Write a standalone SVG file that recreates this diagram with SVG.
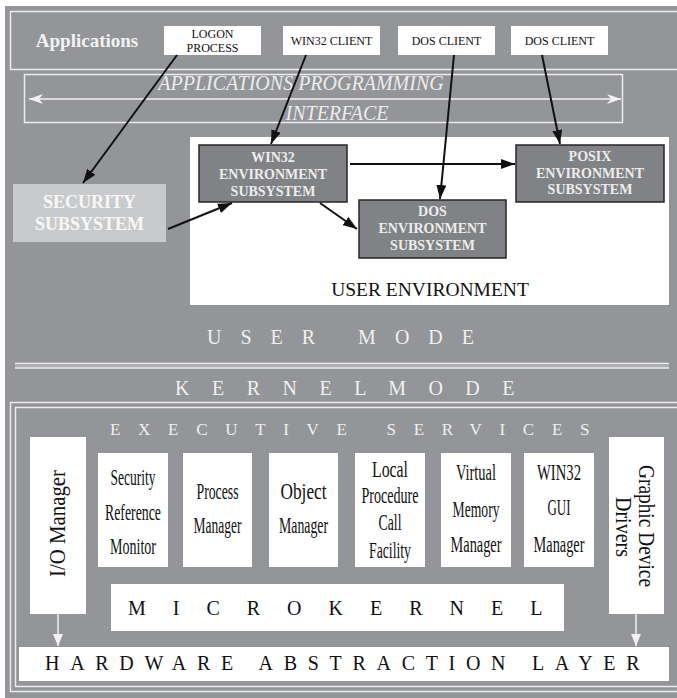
<svg xmlns="http://www.w3.org/2000/svg" width="677" height="698" viewBox="0 0 677 698">
<style>
.bg{fill:#939598}
.wline{fill:none;stroke:#ececec;stroke-width:1.5}
.client{fill:#ffffff}
.ctext{font-family:"Liberation Serif",serif;font-size:12px;fill:#111;text-anchor:middle}
.sub{fill:#808285;stroke:#262626;stroke-width:1.5}
.stext{font-family:"Liberation Serif",serif;font-size:14px;font-weight:bold;fill:#ededed;text-anchor:middle}
.sec{fill:#c9cacc}
.sectext{font-family:"Liberation Serif",serif;font-size:18px;font-weight:bold;fill:#f7f7f7;text-anchor:middle}
.api{font-family:"Liberation Serif",serif;font-size:20px;font-style:italic;fill:#ececec;text-anchor:middle}
.spaced{font-family:"Liberation Serif",serif;font-size:20px;fill:#f0f0f0}
.wbox{fill:#ffffff}
.etext{font-family:"Liberation Serif",serif;font-size:24px;fill:#111;text-anchor:middle}
.btext{font-family:"Liberation Serif",serif;font-size:20px;fill:#111}
.conn{fill:none;stroke:#111;stroke-width:2}
.wconn{fill:none;stroke:#f2f2f2;stroke-width:1.5}
</style>
<defs>
<marker id="ah" markerUnits="userSpaceOnUse" markerWidth="15" markerHeight="10" refX="14" refY="5" orient="auto">
<path d="M0,0 L14,5 L0,10 z" fill="#111"/>
</marker>
<marker id="wah" markerUnits="userSpaceOnUse" markerWidth="15" markerHeight="10" refX="14" refY="5" orient="auto">
<path d="M0,0 L14,5 L0,10 L4,5 z" fill="#f2f2f2"/>
</marker>
<marker id="wtri" markerUnits="userSpaceOnUse" markerWidth="13" markerHeight="10" refX="12" refY="5" orient="auto">
<path d="M0,0 L12,5 L0,10 z" fill="#f2f2f2"/>
</marker>
</defs>

<rect x="0" y="0" width="677" height="698" fill="#ffffff"/>
<rect class="bg" x="5" y="6" width="672" height="692"/>

<g id="applications">
<rect class="wline" x="10.5" y="11.5" width="680" height="58"/>
<text x="87" y="47" font-family="Liberation Serif,serif" font-size="19" font-weight="bold" fill="#f2f2f2" text-anchor="middle">Applications</text>
</g>

<g id="logon-process">
<rect class="client" x="164" y="26" width="97" height="29"/>
<text class="ctext" x="212.5" y="38">LOGON</text>
<text class="ctext" x="212.5" y="52">PROCESS</text>
</g>
<g id="win32-client">
<rect class="client" x="283" y="26" width="97" height="29"/>
<text class="ctext" x="331.5" y="45">WIN32 CLIENT</text>
</g>
<g id="dos-client-1">
<rect class="client" x="398" y="26" width="97" height="29"/>
<text class="ctext" x="446.5" y="45">DOS CLIENT</text>
</g>
<g id="dos-client-2">
<rect class="client" x="511" y="26" width="97" height="29"/>
<text class="ctext" x="559.5" y="45">DOS CLIENT</text>
</g>

<g id="api">
<rect class="wline" x="24.5" y="74.5" width="598" height="48"/>
<line class="wconn" x1="325" y1="99" x2="29" y2="99" marker-end="url(#wah)"/>
<line class="wconn" x1="325" y1="99" x2="621" y2="99" marker-end="url(#wah)"/>
<text class="api" x="301" y="90">APPLICATIONS  PROGRAMMING</text>
<text class="api" x="337" y="120">INTERFACE</text>
</g>

<g id="user-environment">
<rect class="wbox" x="190" y="137" width="479" height="168"/>
<text x="430" y="296" font-family="Liberation Serif,serif" font-size="19.5" fill="#111" text-anchor="middle">USER ENVIRONMENT</text>
</g>

<g id="win32-env">
<rect class="sub" x="199" y="145" width="148" height="57"/>
<text class="stext" x="273" y="162">WIN32</text>
<text class="stext" x="273" y="179">ENVIRONMENT</text>
<text class="stext" x="273" y="196">SUBSYSTEM</text>
</g>
<g id="posix-env">
<rect class="sub" x="516" y="145" width="148" height="57"/>
<text class="stext" x="590" y="161">POSIX</text>
<text class="stext" x="590" y="178">ENVIRONMENT</text>
<text class="stext" x="590" y="194">SUBSYSTEM</text>
</g>
<g id="dos-env">
<rect class="sub" x="359" y="200" width="147" height="58"/>
<text class="stext" x="432.5" y="216">DOS</text>
<text class="stext" x="432.5" y="233">ENVIRONMENT</text>
<text class="stext" x="432.5" y="250">SUBSYSTEM</text>
</g>
<g id="security-subsystem">
<rect class="sec" x="13" y="184" width="153" height="58"/>
<text class="sectext" x="89.5" y="208">SECURITY</text>
<text class="sectext" x="89.5" y="230">SUBSYSTEM</text>
</g>

<g id="connectors">
<line class="conn" x1="177" y1="55" x2="83" y2="183" marker-end="url(#ah)"/>
<line class="conn" x1="306" y1="55" x2="271" y2="144" marker-end="url(#ah)"/>
<line class="conn" x1="454" y1="55" x2="440" y2="199" marker-end="url(#ah)"/>
<line class="conn" x1="542" y1="55" x2="560" y2="144" marker-end="url(#ah)"/>
<line class="conn" x1="350" y1="164" x2="515" y2="164" marker-end="url(#ah)"/>
<line class="conn" x1="320" y1="203" x2="357" y2="229" marker-end="url(#ah)"/>
<line class="conn" x1="168" y1="229" x2="232" y2="203" marker-end="url(#ah)"/>
<line class="wconn" x1="58" y1="614" x2="58" y2="646" marker-end="url(#wtri)"/>
<line class="wconn" x1="636" y1="614" x2="636" y2="646" marker-end="url(#wtri)"/>
</g>

<g id="mode-divider">
<text class="spaced" x="207" y="344" letter-spacing="19">USER MODE</text>
<line x1="15" y1="363.5" x2="669" y2="363.5" stroke="#eeeeee" stroke-width="1.5"/>
<line x1="15" y1="366" x2="669" y2="366" stroke="#c8c8c8" stroke-width="1"/>
<line x1="15" y1="368" x2="669" y2="368" stroke="#eeeeee" stroke-width="1.5"/>
<text class="spaced" x="175" y="395" letter-spacing="22.5" word-spacing="-27.5">KERNEL MODE</text>
</g>

<g id="kernel">
<rect class="wline" x="10.5" y="402.5" width="680" height="289"/>
<rect class="wline" x="15.5" y="407.5" width="680" height="279"/>
<text x="110" y="435" font-family="Liberation Serif,serif" font-size="17" fill="#f0f0f0" letter-spacing="17.7">EXECUTIVE SERVICES</text>
</g>

<g id="io-manager">
<rect class="wbox" x="30" y="437" width="56" height="177"/>
<text class="etext" transform="translate(65,523.5) rotate(-90)" textLength="107" lengthAdjust="spacingAndGlyphs">I/O Manager</text>
</g>
<g id="security-reference-monitor">
<rect class="wbox" x="98" y="453" width="70" height="114"/>
<text class="etext" x="133" y="485" textLength="45" lengthAdjust="spacingAndGlyphs">Security</text>
<text class="etext" x="133" y="520" textLength="56" lengthAdjust="spacingAndGlyphs">Reference</text>
<text class="etext" x="133" y="554" textLength="46" lengthAdjust="spacingAndGlyphs">Monitor</text>
</g>
<g id="process-manager">
<rect class="wbox" x="183" y="453" width="69" height="114"/>
<text class="etext" x="217.5" y="499" textLength="42" lengthAdjust="spacingAndGlyphs">Process</text>
<text class="etext" x="217.5" y="533" textLength="48" lengthAdjust="spacingAndGlyphs">Manager</text>
</g>
<g id="object-manager">
<rect class="wbox" x="269" y="453" width="69" height="114"/>
<text class="etext" x="303.5" y="499" textLength="46" lengthAdjust="spacingAndGlyphs">Object</text>
<text class="etext" x="303.5" y="533" textLength="49" lengthAdjust="spacingAndGlyphs">Manager</text>
</g>
<g id="local-procedure-call">
<rect class="wbox" x="355" y="453" width="70" height="114"/>
<text class="etext" x="390" y="477" textLength="36" lengthAdjust="spacingAndGlyphs">Local</text>
<text class="etext" x="390" y="503" textLength="57" lengthAdjust="spacingAndGlyphs">Procedure</text>
<text class="etext" x="390" y="530" textLength="23" lengthAdjust="spacingAndGlyphs">Call</text>
<text class="etext" x="390" y="558" textLength="42" lengthAdjust="spacingAndGlyphs">Facility</text>
</g>
<g id="virtual-memory-manager">
<rect class="wbox" x="441" y="453" width="70" height="114"/>
<text class="etext" x="476" y="480" textLength="40" lengthAdjust="spacingAndGlyphs">Virtual</text>
<text class="etext" x="476" y="517" textLength="47" lengthAdjust="spacingAndGlyphs">Memory</text>
<text class="etext" x="476" y="552" textLength="51" lengthAdjust="spacingAndGlyphs">Manager</text>
</g>
<g id="win32-gui-manager">
<rect class="wbox" x="524" y="453" width="70" height="114"/>
<text class="etext" x="559" y="480" textLength="44" lengthAdjust="spacingAndGlyphs">WIN32</text>
<text class="etext" x="559" y="515" textLength="23" lengthAdjust="spacingAndGlyphs">GUI</text>
<text class="etext" x="559" y="552" textLength="51" lengthAdjust="spacingAndGlyphs">Manager</text>
</g>
<g id="graphic-device-drivers">
<rect class="wbox" x="609" y="437" width="55" height="177"/>
<text class="etext" font-size="20" transform="translate(639,526) rotate(90)" textLength="122" lengthAdjust="spacingAndGlyphs">Graphic Device</text>
<text class="etext" font-size="20" transform="translate(616,527) rotate(90)" textLength="60" lengthAdjust="spacingAndGlyphs">Drivers</text>
</g>
<g id="microkernel">
<rect class="wbox" x="111" y="584" width="453" height="47"/>
<text class="btext" x="128" y="615" letter-spacing="27">MICROKERNEL</text>
</g>
<g id="hal">
<rect class="wbox" x="19" y="647" width="650" height="34"/>
<text class="btext" x="45" y="670" letter-spacing="10.7">HARDWARE ABSTRACTION LAYER</text>
</g>
</svg>
